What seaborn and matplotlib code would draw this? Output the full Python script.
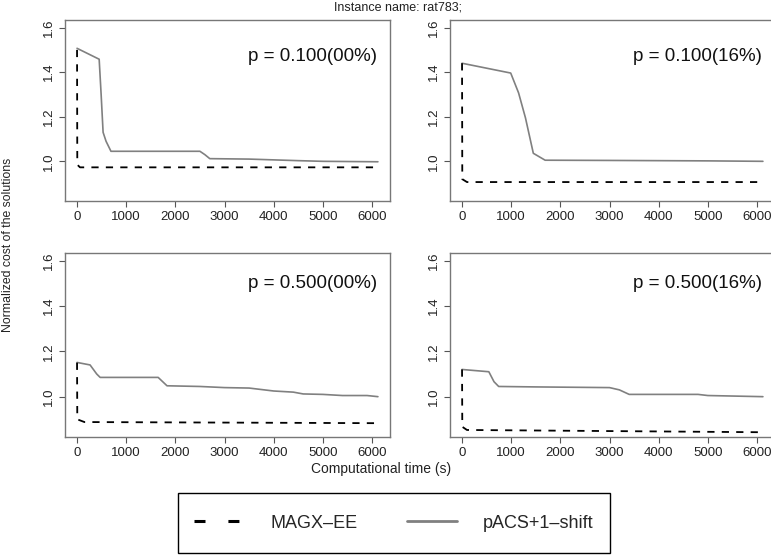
import numpy as np
import pandas as pd
import matplotlib
matplotlib.use("Agg")
import matplotlib.pyplot as plt
import seaborn as sns
from matplotlib.lines import Line2D
from matplotlib.patches import Rectangle

# panel labels
panel_labels = ["p = 0.100(00%)", "p = 0.100(16%)", "p = 0.500(00%)", "p = 0.500(16%)"]

# pACS+1-shift curves (time in s, normalized cost)
pacs_t = [
    [0, 450, 490, 530, 590, 690, 1500, 2500, 2600, 2700, 3500, 4500, 5000, 6120],
    [0, 990, 1150, 1290, 1450, 1690, 3000, 5000, 6120],
    [0, 265, 400, 470, 1000, 1650, 1830, 2500, 3000, 3500, 4000, 4400, 4600, 5000, 5400, 5900, 6120],
    [0, 545, 650, 745, 1500, 3000, 3200, 3400, 4800, 5000, 6120],
]
pacs_v = [
    [1.507, 1.458, 1.30, 1.13, 1.09, 1.045, 1.045, 1.045, 1.03, 1.012, 1.01, 1.003, 1.0, 0.998],
    [1.44, 1.396, 1.307, 1.195, 1.036, 1.005, 1.004, 1.002, 1.0],
    [1.151, 1.14, 1.10, 1.085, 1.085, 1.085, 1.048, 1.045, 1.04, 1.038, 1.025, 1.02, 1.012, 1.01, 1.005, 1.005, 1.0],
    [1.12, 1.11, 1.066, 1.045, 1.043, 1.04, 1.03, 1.01, 1.01, 1.005, 1.0],
]

# MAGX-EE curves
magx_t = [
    [0, 5, 60, 6120],
    [0, 5, 100, 6120],
    [0, 5, 150, 6120],
    [0, 5, 100, 6120],
]
magx_v = [
    [1.50, 0.985, 0.973, 0.973],
    [1.44, 0.92, 0.907, 0.907],
    [1.15, 0.90, 0.888, 0.883],
    [1.12, 0.867, 0.853, 0.843],
]

sns.set_style("ticks")
plt.rcParams["font.family"] = ["Liberation Sans", "DejaVu Sans"]

fig = plt.figure(figsize=(7.71, 5.57), dpi=100)
W, H = 771, 557
boxes = [(65, 20, 390, 201), (450, 20, 775, 201), (65, 253, 390, 437), (450, 253, 775, 437)]
label_y = [0.80, 0.80, 0.835, 0.835]

solid_col = "#808080"
for i, (x0, y0, x1, y1) in enumerate(boxes):
    ax = fig.add_axes([x0 / W, 1 - y1 / H, (x1 - x0) / W, (y1 - y0) / H])
    df_p = pd.DataFrame({"t": pacs_t[i], "v": pacs_v[i]})
    df_m = pd.DataFrame({"t": magx_t[i], "v": magx_v[i]})
    sns.lineplot(data=df_p, x="t", y="v", ax=ax, color=solid_col, lw=1.2,
                 estimator=None, sort=False)
    sns.lineplot(data=df_m, x="t", y="v", ax=ax, color="black", lw=1.3,
                 linestyle=(0, (4, 4)), estimator=None, sort=False)
    ax.set_xlim(-245, 6366)
    ax.set_ylim(0.822, 1.634)
    ax.set_xticks(range(0, 7000, 1000))
    ax.set_yticks([1.0, 1.2, 1.4, 1.6])
    ax.set_yticklabels(["1.0", "1.2", "1.4", "1.6"], rotation=90, va="center")
    ax.tick_params(axis="both", labelsize=9.5, length=4, width=0.8, color="#555555",
                   labelcolor="#222222", pad=3)
    ax.set_xlabel("")
    ax.set_ylabel("")
    for s in ax.spines.values():
        s.set_visible(True)
        s.set_color("#777777")
        s.set_linewidth(1.0)
    ax.text(0.96, label_y[i], panel_labels[i], transform=ax.transAxes, ha="right",
            va="center", fontsize=13.5, color="#111111")

fig.text(398 / W, 1 - 7 / H, "Instance name: rat783;", ha="center", va="center",
         fontsize=9, color="#222222")
fig.text(8 / W, 1 - 245 / H, "Normalized cost of the solutions", ha="center",
         va="center", rotation=90, fontsize=8.8, color="#222222")
fig.text(381 / W, 1 - 469 / H, "Computational time (s)", ha="center", va="center",
         fontsize=10, color="#222222")

# legend frame drawn separately so its height can follow the reference
fig.patches.append(Rectangle((178 / W, 1 - 553 / H), 432 / W, 60 / H,
                             transform=fig.transFigure, fill=False,
                             edgecolor="black", lw=1.0))

handles = [
    Line2D([], [], color="black", lw=2.2, linestyle=(0, (3.6, 7.5))),
    Line2D([], [], color=solid_col, lw=2.0),
]
leg = fig.legend(handles, ["MAGX\u2013EE", "pACS+1\u2013shift"], loc="center",
                 bbox_to_anchor=(394 / W, 1 - 523 / H), ncol=2, fontsize=13,
                 frameon=False, handlelength=2.77, handletextpad=1.44,
                 columnspacing=2.77, borderpad=0.5, borderaxespad=0)

fig.savefig("out.png", dpi=100)
